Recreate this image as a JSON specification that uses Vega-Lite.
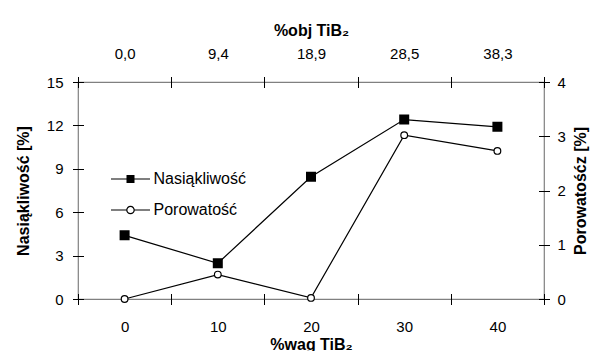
{
  "$schema": "https://vega.github.io/schema/vega-lite/v6.json",
  "autosize": {"type": "none"},
  "padding": {"top": 82, "left": 78, "right": 51, "bottom": 52},
  "width": 466,
  "height": 217,
  "background": "white",
  "config": {
    "font": "Liberation Sans",
    "view": {"stroke": "#808080", "strokeWidth": 1.2},
    "axis": {"grid": false, "labelFont": "Liberation Sans", "labelFontSize": 15, "labelColor": "#000", "titleFont": "Liberation Sans", "titleFontSize": 16, "titleFontWeight": "bold", "titleColor": "#000", "tickColor": "#000", "tickWidth": 1},
    "legend": {"labelFont": "Liberation Sans", "labelFontSize": 16, "labelColor": "#000", "padding": 0, "symbolSize": 400, "labelOffset": 12, "symbolOpacity": 1}
  },
  "data": {"values": [
    {"x": 0, "nas": 4.4, "por": 0.0},
    {"x": 10, "nas": 2.47, "por": 0.45},
    {"x": 20, "nas": 8.45, "por": 0.02},
    {"x": 30, "nas": 12.4, "por": 3.02},
    {"x": 40, "nas": 11.9, "por": 2.73}
  ]},
  "resolve": {"scale": {"y": "independent", "shape": "independent"}, "axis": {"x": "independent", "y": "independent"}, "legend": {"shape": "independent"}},
  "layer": [
    {
      "mark": {"type": "point", "filled": true, "fill": "black", "size": 0, "opacity": 1},
      "encoding": {
        "shape": {"datum": "Nasiąkliwość", "type": "nominal",
          "scale": {"domain": ["Nasiąkliwość"], "range": ["M-1.95,-0.06H1.95V0.06H-1.95ZM-0.4,-0.4H0.4V0.4H-0.4Z"]},
          "legend": {"title": null, "orient": "none", "legendX": 41.5, "legendY": 86, "symbolFillColor": "black"}}
      }
    },
    {
      "mark": {"type": "point", "filled": true, "fill": "black", "size": 0, "opacity": 1},
      "encoding": {
        "shape": {"datum": "Porowatość", "type": "nominal",
          "scale": {"domain": ["Porowatość"], "range": ["M-1.95,-0.06H-0.42V0.06H-1.95ZM0.42,-0.06H1.95V0.06H0.42ZM-0.43,0A0.43,0.43 0 1,1 0.43,0A0.43,0.43 0 1,1 -0.43,0ZM-0.31,0A0.31,0.31 0 1,0 0.31,0A0.31,0.31 0 1,0 -0.31,0Z"]},
          "legend": {"title": null, "orient": "none", "legendX": 41.5, "legendY": 117, "symbolFillColor": "black"}}
      }
    },
    {
      "mark": {"type": "line", "color": "black", "strokeWidth": 1.2},
      "encoding": {
        "x": {"field": "x", "type": "quantitative", "scale": {"domain": [-5, 45], "nice": false, "zero": false},
          "axis": {"orient": "bottom", "values": [0, 10, 20, 30, 40], "ticks": false, "tickSize": 0, "domain": false, "labelPadding": 20, "title": "%wag TiB₂", "titleX": 233, "titleY": 50, "titleAlign": "center", "titleBaseline": "alphabetic"}},
        "y": {"field": "nas", "type": "quantitative", "scale": {"domain": [0, 15], "nice": false},
          "axis": {"orient": "left", "values": [0, 3, 6, 9, 12, 15], "ticks": false, "tickSize": 0, "domain": false, "labelPadding": 15, "title": "Nasiąkliwość [%]", "titleX": -54.5, "titleY": 108.5, "titleAngle": 270, "titleAlign": "center", "titleBaseline": "middle"}}
      }
    },
    {
      "mark": {"type": "point", "shape": "square", "filled": true, "fill": "black", "stroke": "black", "size": 64, "opacity": 1},
      "encoding": {
        "x": {"field": "x", "type": "quantitative", "scale": {"domain": [-5, 45], "nice": false, "zero": false},
          "axis": {"orient": "bottom", "values": [-5, 5, 15, 25, 35, 45], "labels": false, "domain": false, "tickSize": 11, "offset": -5.5, "title": null}},
        "y": {"field": "nas", "type": "quantitative", "scale": {"domain": [0, 15], "nice": false},
          "axis": {"orient": "left", "values": [0, 3, 6, 9, 12, 15], "labels": false, "domain": false, "tickSize": 11, "offset": -5.5, "title": null}}
      }
    },
    {
      "mark": {"type": "line", "color": "black", "strokeWidth": 1.2},
      "encoding": {
        "x": {"field": "x", "type": "quantitative", "scale": {"domain": [-5, 45], "nice": false, "zero": false},
          "axis": {"orient": "top", "values": [0, 10, 20, 30, 40], "ticks": false, "tickSize": 0, "domain": false, "labelPadding": 21, "title": "%obj TiB₂", "titleX": 233, "titleY": -47, "titleAlign": "center", "titleBaseline": "alphabetic",
            "labelExpr": "datum.value == 0 ? '0,0' : datum.value == 10 ? '9,4' : datum.value == 20 ? '18,9' : datum.value == 30 ? '28,5' : '38,3'"}},
        "y": {"field": "por", "type": "quantitative", "scale": {"domain": [0, 4], "nice": false},
          "axis": {"orient": "right", "values": [0, 1, 2, 3, 4], "ticks": false, "tickSize": 0, "domain": false, "labelPadding": 13, "title": "Porowatośćz [%]", "titleX": 36, "titleY": 108.5, "titleAngle": 270, "titleAlign": "center", "titleBaseline": "middle"}}
      }
    },
    {
      "mark": {"type": "point", "shape": "circle", "filled": true, "fill": "white", "stroke": "black", "strokeWidth": 1.2, "size": 45, "opacity": 1},
      "encoding": {
        "x": {"field": "x", "type": "quantitative", "scale": {"domain": [-5, 45], "nice": false, "zero": false},
          "axis": {"orient": "top", "values": [-5, 5, 15, 25, 35, 45], "labels": false, "domain": false, "tickSize": 11, "offset": -5.5, "title": null}},
        "y": {"field": "por", "type": "quantitative", "scale": {"domain": [0, 4], "nice": false},
          "axis": {"orient": "right", "values": [0, 1, 2, 3, 4], "labels": false, "domain": false, "tickSize": 11, "offset": -5.5, "title": null}}
      }
    }
  ]
}
